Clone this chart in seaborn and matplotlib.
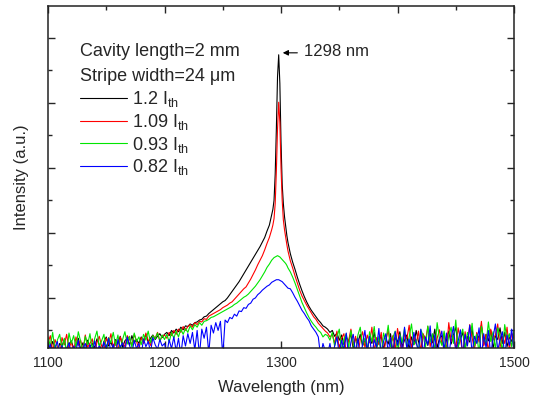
import numpy as np
import pandas as pd
import seaborn as sns
import matplotlib.pyplot as plt

# sample positions (nm): 2 nm in the noise floor and wings, 1 nm around the lasing line
wavelength = np.concatenate([
    np.arange(1100, 1200, 2),   # 50
    np.arange(1200, 1290, 2),   # 45
    np.arange(1290, 1307, 1),   # 17
    np.arange(1308, 1340, 2),   # 16
    np.arange(1340, 1501, 2),   # 81
])

labels = ["1.2 I$_{\\rm th}$", "1.09 I$_{\\rm th}$", "0.93 I$_{\\rm th}$", "0.82 I$_{\\rm th}$"]
colors = ["#000000", "#ff0000", "#00e600", "#0000ff"]

# intensities (a.u.)
i_120 = [
    0.28, 0.20, 0.33, 0.24, 0.15, 0.30, 0.26, 0.36, 0.18, 0.29,
    0.34, 0.22, 0.27, 0.38, 0.21, 0.31, 0.17, 0.35, 0.25, 0.30,
    0.23, 0.37, 0.28, 0.19, 0.33, 0.40, 0.26, 0.32, 0.22, 0.36,
    0.29, 0.41, 0.24, 0.34, 0.38, 0.27, 0.42, 0.31, 0.36, 0.30,
    0.40, 0.34, 0.44, 0.32, 0.38, 0.43, 0.36, 0.41, 0.45, 0.39,
    0.44, 0.47, 0.42, 0.50, 0.46, 0.52, 0.48, 0.55, 0.51, 0.57,
    0.56, 0.60, 0.58, 0.62, 0.63, 0.66, 0.67, 0.71, 0.72, 0.76,
    0.79, 0.82, 0.85, 0.88, 0.91, 0.94, 0.96, 1.00, 1.05, 1.10,
    1.15, 1.20, 1.25, 1.31, 1.37, 1.43, 1.49, 1.55, 1.61, 1.67,
    1.73, 1.79, 1.86, 1.93, 2.03,
    2.12, 2.20, 2.28, 2.36, 2.50, 2.90, 3.60, 4.40, 4.74, 4.30,
    3.40, 2.75, 2.45, 2.25, 2.10, 1.96, 1.85,
    1.68, 1.55, 1.44, 1.32, 1.21, 1.11, 1.02, 0.94, 0.87, 0.81,
    0.76, 0.71, 0.66, 0.62, 0.57, 0.55,
    0.52, 0.47, 0.50, 0.41, 0.46, 0.35, 0.43, 0.28, 0.40, 0.33,
    0.45, 0.22, 0.38, 0.31, 0.44, 0.26, 0.36, 0.18, 0.41, 0.30,
    0.47, 0.24, 0.34, 0.42, 0.20, 0.37, 0.29, 0.45, 0.16, 0.39,
    0.32, 0.48, 0.25, 0.35, 0.43, 0.21, 0.40, 0.28, 0.50, 0.33,
    0.19, 0.44, 0.36, 0.27, 0.46, 0.31, 0.52, 0.23, 0.38, 0.42,
    0.17, 0.35, 0.49, 0.29, 0.43, 0.55, 0.26, 0.37, 0.47, 0.20,
    0.41, 0.32, 0.53, 0.24, 0.45, 0.38, 0.58, 0.28, 0.44, 0.34,
    0.50, 0.22, 0.42, 0.36, 0.54, 0.30, 0.47, 0.25, 0.40, 0.33,
    0.45,
]
i_109 = [
    0.31, 0.42, 0.18, 0.36, 0.25, 0.12, 0.39, 0.28, 0.44, 0.21,
    0.33, 0.16, 0.40, 0.27, 0.35, 0.19, 0.43, 0.24, 0.30, 0.37,
    0.14, 0.32, 0.41, 0.26, 0.20, 0.38, 0.29, 0.45, 0.23, 0.34,
    0.17, 0.40, 0.31, 0.25, 0.42, 0.36, 0.28, 0.44, 0.33, 0.21,
    0.39, 0.30, 0.46, 0.35, 0.27, 0.42, 0.38, 0.47, 0.34, 0.41,
    0.43, 0.38, 0.47, 0.42, 0.50, 0.44, 0.52, 0.47, 0.56, 0.50,
    0.56, 0.59, 0.55, 0.62, 0.59, 0.64, 0.63, 0.68, 0.67, 0.72,
    0.74, 0.76, 0.78, 0.80, 0.82, 0.85, 0.87, 0.89, 0.92, 0.94,
    0.98, 1.02, 1.06, 1.10, 1.14, 1.17, 1.23, 1.29, 1.36, 1.43,
    1.51, 1.58, 1.65, 1.74, 1.84,
    1.93, 1.99, 2.05, 2.12, 2.22, 2.45, 2.95, 3.60, 4.01, 3.70,
    3.00, 2.50, 2.20, 2.05, 1.93, 1.82, 1.72,
    1.57, 1.46, 1.34, 1.23, 1.12, 1.03, 0.96, 0.89, 0.83, 0.77,
    0.71, 0.67, 0.61, 0.57, 0.53, 0.49,
    0.46, 0.40, 0.44, 0.30, 0.49, 0.21, 0.38, 0.45, 0.15, 0.34,
    0.52, 0.27, 0.41, 0.12, 0.36, 0.48, 0.24, 0.43, 0.31, 0.55,
    0.18, 0.39, 0.28, 0.47, 0.13, 0.35, 0.50, 0.26, 0.42, 0.20,
    0.53, 0.32, 0.14, 0.44, 0.37, 0.58, 0.23, 0.40, 0.29, 0.49,
    0.16, 0.45, 0.34, 0.56, 0.25, 0.41, 0.11, 0.38, 0.51, 0.30,
    0.46, 0.19, 0.62, 0.33, 0.42, 0.22, 0.54, 0.36, 0.15, 0.48,
    0.28, 0.59, 0.39, 0.21, 0.47, 0.32, 0.64, 0.26, 0.44, 0.17,
    0.52, 0.35, 0.43, 0.60, 0.24, 0.41, 0.30, 0.55, 0.20, 0.46,
    0.38,
]
i_093 = [
    0.40, 0.26, 0.47, 0.19, 0.35, 0.44, 0.22, 0.38, 0.13, 0.46,
    0.30, 0.42, 0.24, 0.48, 0.33, 0.17, 0.41, 0.28, 0.45, 0.21,
    0.37, 0.49, 0.25, 0.34, 0.44, 0.15, 0.39, 0.31, 0.47, 0.27,
    0.43, 0.20, 0.36, 0.48, 0.29, 0.41, 0.24, 0.46, 0.33, 0.40,
    0.28, 0.44, 0.35, 0.49, 0.31, 0.42, 0.37, 0.46, 0.33, 0.43,
    0.36, 0.44, 0.32, 0.47, 0.38, 0.49, 0.40, 0.52, 0.44, 0.53,
    0.47, 0.57, 0.51, 0.59, 0.55, 0.62, 0.58, 0.64, 0.65, 0.67,
    0.70, 0.71, 0.73, 0.75, 0.77, 0.79, 0.81, 0.83, 0.85, 0.87,
    0.90, 0.92, 0.95, 0.98, 1.01, 1.03, 1.06, 1.10, 1.14, 1.18,
    1.23, 1.28, 1.34, 1.40, 1.47,
    1.52, 1.55, 1.58, 1.60, 1.62, 1.63, 1.64, 1.65, 1.64, 1.63,
    1.61, 1.59, 1.57, 1.55, 1.53, 1.50, 1.46,
    1.40, 1.32, 1.23, 1.13, 1.03, 0.93, 0.85, 0.77, 0.70, 0.64,
    0.59, 0.55, 0.50, 0.47, 0.40, 0.44,
    0.42, 0.35, 0.47, 0.26, 0.40, 0.52, 0.18, 0.37, 0.45, 0.23,
    0.50, 0.30, 0.14, 0.43, 0.55, 0.27, 0.38, 0.19, 0.48, 0.33,
    0.56, 0.22, 0.41, 0.12, 0.46, 0.34, 0.58, 0.25, 0.39, 0.49,
    0.16, 0.44, 0.31, 0.53, 0.21, 0.40, 0.60, 0.28, 0.36, 0.13,
    0.51, 0.42, 0.24, 0.57, 0.32, 0.45, 0.18, 0.62, 0.37, 0.27,
    0.49, 0.15, 0.43, 0.55, 0.30, 0.66, 0.23, 0.40, 0.52, 0.20,
    0.47, 0.35, 0.61, 0.26, 0.44, 0.14, 0.56, 0.38, 0.29, 0.63,
    0.33, 0.48, 0.21, 0.54, 0.41, 0.17, 0.59, 0.36, 0.45, 0.25,
    0.50,
]
i_082 = [
    0.18, 0.29, 0.10, 0.24, 0.33, 0.14, 0.27, 0.08, 0.21, 0.31,
    0.12, 0.26, 0.19, 0.35, 0.09, 0.23, 0.30, 0.15, 0.28, 0.11,
    0.34, 0.20, 0.26, 0.13, 0.32, 0.22, 0.38, 0.16, 0.29, 0.10,
    0.36, 0.24, 0.31, 0.18, 0.40, 0.27, 0.14, 0.35, 0.22, 0.30,
    0.12, 0.37, 0.25, 0.33, 0.17, 0.39, 0.28, 0.21, 0.36, 0.26,
    0.30, 0.14, 0.36, 0.22, 0.40, 0.18, 0.38, 0.12, 0.42, 0.26,
    0.45, 0.30, 0.47, 0.20, 0.50, 0.12, 0.52, 0.38, 0.55, 0.15,
    0.58, 0.46, 0.62, 0.50, 0.64, 0.10, 0.66, 0.62, 0.70, 0.68,
    0.75, 0.72, 0.80, 0.79, 0.85, 0.84, 0.90, 0.92, 0.98, 1.00,
    1.05, 1.08, 1.12, 1.15, 1.18,
    1.20, 1.22, 1.24, 1.25, 1.26, 1.27, 1.28, 1.28, 1.28, 1.27,
    1.26, 1.25, 1.23, 1.21, 1.19, 1.17, 1.15,
    1.14, 1.08, 1.01, 0.95, 0.88, 0.81, 0.76, 0.70, 0.65, 0.57,
    0.52, 0.47, 0.40, 0.10, 0.30, 0.18,
    0.14, 0.30, 0.08, 0.26, 0.40, 0.12, 0.35, 0.20, 0.46, 0.09,
    0.32, 0.44, 0.15, 0.38, 0.06, 0.29, 0.50, 0.18, 0.41, 0.11,
    0.36, 0.24, 0.53, 0.10, 0.33, 0.45, 0.16, 0.39, 0.07, 0.48,
    0.27, 0.42, 0.13, 0.55, 0.22, 0.37, 0.09, 0.47, 0.31, 0.19,
    0.52, 0.12, 0.40, 0.28, 0.57, 0.15, 0.43, 0.08, 0.35, 0.49,
    0.21, 0.46, 0.11, 0.38, 0.56, 0.17, 0.33, 0.51, 0.10, 0.44,
    0.26, 0.58, 0.14, 0.41, 0.30, 0.54, 0.08, 0.45, 0.23, 0.50,
    0.12, 0.39, 0.60, 0.19, 0.36, 0.48, 0.09, 0.43, 0.27, 0.52,
    0.16,
]

frames = []
for lab, vals in zip(labels, [i_120, i_109, i_093, i_082]):
    frames.append(pd.DataFrame({"Wavelength": wavelength, "Intensity": vals, "Current": lab}))
df = pd.concat(frames, ignore_index=True)

sns.set_style("ticks")
plt.rcParams["font.family"] = ["Liberation Sans", "DejaVu Sans"]
plt.rcParams["mathtext.fontset"] = "custom"
plt.rcParams["mathtext.rm"] = "Liberation Sans"
plt.rcParams["mathtext.it"] = "Liberation Sans:italic"

fig = plt.figure(figsize=(5.34, 4.01), dpi=100)
ax = fig.add_axes([0.0899, 0.1322, 0.8727, 0.8528])

sns.lineplot(data=df, x="Wavelength", y="Intensity", hue="Current", hue_order=labels,
             palette=dict(zip(labels, colors)), estimator=None, linewidth=0.8, ax=ax)

ax.set_xlim(1100, 1500)
ax.set_ylim(0.23, 5.49)
ax.set_xticks([1100, 1200, 1300, 1400, 1500])
ax.set_xticks([1150, 1250, 1350, 1450], minor=True)
ax.set_yticks([1, 2, 3, 4, 5])
ax.set_yticks([0.5, 1.5, 2.5, 3.5, 4.5], minor=True)
ax.set_yticklabels([])
ax.tick_params(which="major", direction="in", length=5, width=1, top=True, right=True, labelsize=10, pad=6)
ax.tick_params(which="minor", direction="in", length=3, width=1, top=True, right=True)
for s in ax.spines.values():
    s.set_linewidth(1.1)
    s.set_color("#222222")

ax.set_xlabel("Wavelength (nm)", fontsize=12)
ax.set_ylabel("Intensity (a.u.)", fontsize=12)
ax.xaxis.set_label_coords(0.5, -0.094)
ax.yaxis.set_label_coords(-0.04, 0.5)

ax.text(0.0687, 0.854, "Cavity length=2 mm", transform=ax.transAxes, fontsize=13, va="baseline")
ax.text(0.0687, 0.782, "Stripe width=24 \u03bcm", transform=ax.transAxes, fontsize=13, va="baseline")

handles, labs = ax.get_legend_handles_labels()
ax.legend(handles, labs, loc="upper left", bbox_to_anchor=(0.0687, 0.757), frameon=False,
          fontsize=13, handlelength=2.6, handletextpad=0.3, labelspacing=0.15,
          borderpad=0, borderaxespad=0)

ax.annotate("", xy=(1301.5, 4.77), xytext=(1314, 4.77),
            arrowprops=dict(arrowstyle="-|>", color="black", lw=0.8, mutation_scale=8,
                            shrinkA=0, shrinkB=0))
ax.text(1319.7, 4.72, "1298 nm", fontsize=12, va="baseline", ha="left")

fig.savefig("out.png", dpi=100)
